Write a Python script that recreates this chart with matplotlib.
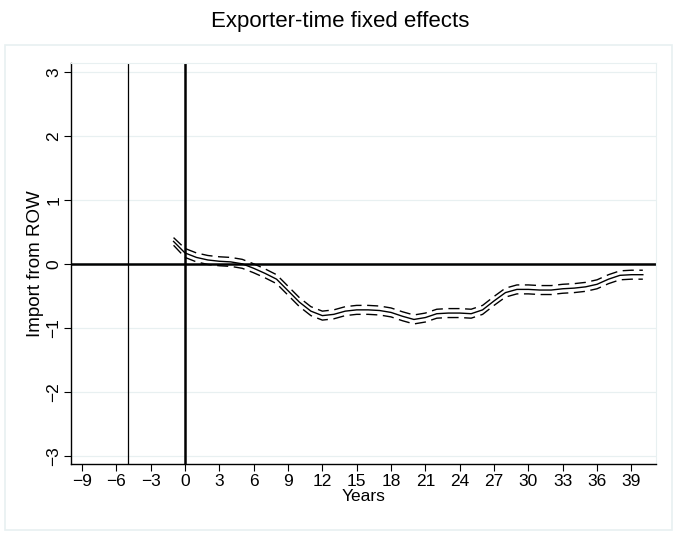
import matplotlib
matplotlib.use("Agg")
import matplotlib.pyplot as plt
from matplotlib.patches import Rectangle

plt.rcParams['font.family'] = ['Liberation Sans', 'DejaVu Sans']

# event-time coefficients (exporter-time fixed effects)
years = list(range(-1, 41))
coef = [0.35, 0.17, 0.10, 0.06, 0.04, 0.03, 0.00, -0.07, -0.15, -0.24,
        -0.42, -0.60, -0.74, -0.81, -0.79, -0.74, -0.72, -0.72, -0.73, -0.76,
        -0.82, -0.87, -0.84, -0.78, -0.77, -0.77, -0.78, -0.72, -0.58, -0.45,
        -0.40, -0.40, -0.41, -0.41, -0.39, -0.38, -0.36, -0.32, -0.24, -0.18,
        -0.17, -0.17]
se = [0.06, 0.07, 0.07, 0.07, 0.07, 0.07, 0.07, 0.07, 0.07, 0.07,
      0.07, 0.07, 0.07, 0.07, 0.07, 0.07, 0.07, 0.07, 0.07, 0.07,
      0.07, 0.07, 0.07, 0.07, 0.07, 0.07, 0.07, 0.07, 0.07, 0.07,
      0.07, 0.07, 0.07, 0.07, 0.07, 0.07, 0.07, 0.07, 0.07, 0.07,
      0.07, 0.07]
upper = [c + s for c, s in zip(coef, se)]
lower = [c - s for c, s in zip(coef, se)]

xticks = list(range(-9, 40, 3))
yticks = [-3, -2, -1, 0, 1, 2, 3]

light = '#e8f0f1'

fig = plt.figure(figsize=(6.79, 5.35), dpi=100)
# outer graph region border
fig.patches.append(Rectangle((5 / 679, 1 - 530 / 535), 667 / 679, 485 / 535,
                             transform=fig.transFigure, fill=False,
                             edgecolor=light, lw=1.2))

ax = fig.add_axes([71 / 679, 1 - 464 / 535, 585 / 679, 401 / 535])
ax.set_xlim(-9.96, 41.15)
ax.set_ylim(-3.13, 3.14)

for y in yticks:
    ax.axhline(y, color=light, lw=0.9, zorder=0)

ax.axhline(0, color='black', lw=1.8, zorder=2)
ax.axvline(0, color='black', lw=1.8, zorder=2)
ax.axvline(-5, color='black', lw=0.9, zorder=2)

ax.plot(years, coef, color='black', lw=1.0, zorder=3)
ax.plot(years, upper, color='black', lw=1.0, ls=(0, (8, 4)), zorder=3)
ax.plot(years, lower, color='black', lw=1.0, ls=(0, (8, 4)), zorder=3)

ax.spines['top'].set_color(light)
ax.spines['right'].set_color(light)
ax.spines['left'].set_linewidth(1.0)
ax.spines['bottom'].set_linewidth(1.0)

ax.set_xticks(xticks)
ax.set_yticks(yticks)
ax.tick_params(direction='out', length=5, width=0.8, labelsize=12.5, pad=2)
for lab in ax.get_yticklabels():
    lab.set_rotation(90)
    lab.set_va('center')

ax.set_xlabel('Years', fontsize=12.5, labelpad=0)
ax.set_ylabel('Import from ROW', fontsize=13.5, labelpad=2)
fig.text(340 / 679, 1 - 22 / 535, 'Exporter-time fixed effects',
         ha='center', va='center', fontsize=16)

fig.savefig('out.png', dpi=100)
